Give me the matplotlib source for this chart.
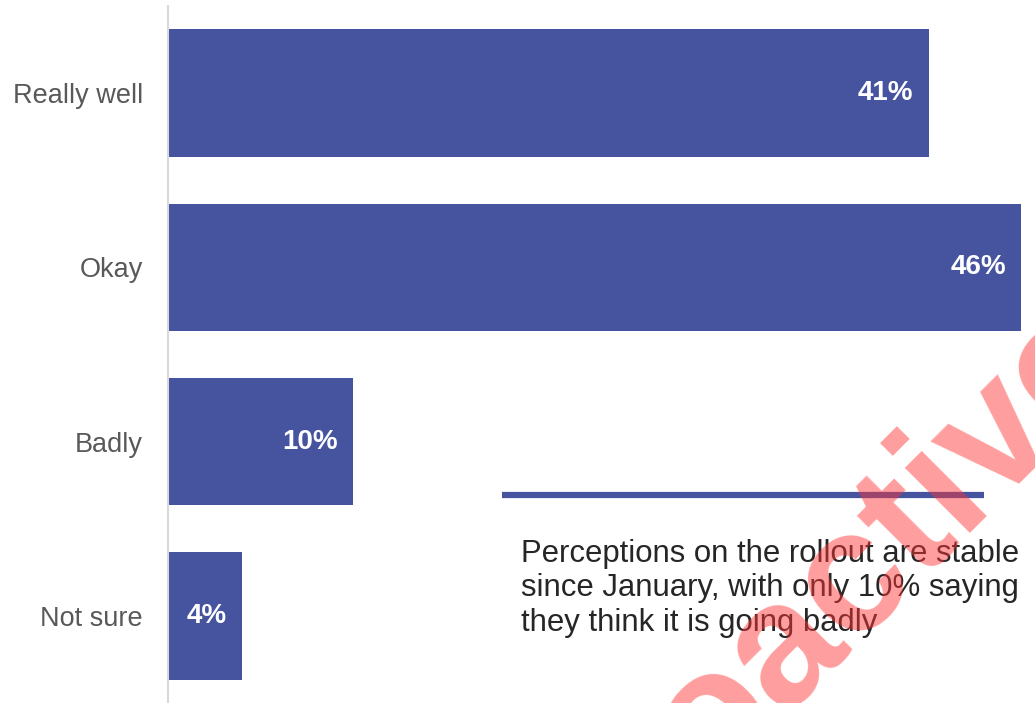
import matplotlib.pyplot as plt

plt.rcParams['font.family'] = ['Liberation Sans', 'DejaVu Sans']

categories = ['Really well', 'Okay', 'Badly', 'Not sure']
values = [41, 46, 10, 4]
value_labels = ['41%', '46%', '10%', '4%']

note = ('Perceptions on the rollout are stable\n'
        'since January, with only 10% saying\n'
        'they think it is going badly')

blue = '#4654a0'
W, H = 1035, 703

fig = plt.figure(figsize=(W / 100, H / 100), dpi=100)
ax = fig.add_axes([168 / W, 0, (W - 168) / W, 697 / H])

pos = list(range(len(categories)))
ax.barh(pos, values, height=0.733, color=blue)
ax.set_ylim(3.5, -0.5)
ax.set_xlim(0, 46.74)

for p, v, lab in zip(pos, values, value_labels):
    ax.annotate(lab, (v, p), xytext=(-11, 0), textcoords='offset points',
                ha='right', va='center', color='white', fontsize=20,
                fontweight='bold')

ax.set_yticks(pos)
ax.set_yticklabels(categories, fontsize=19.5, color='#595959')
ax.tick_params(axis='y', length=0, pad=18)
ax.set_xticks([])
for side in ['top', 'right', 'bottom']:
    ax.spines[side].set_visible(False)
ax.spines['left'].set_color('#d9d9d9')
ax.spines['left'].set_linewidth(1.5)

# callout: rule above the note
fig.add_artist(plt.Line2D([502 / W, 984 / W], [1 - 495 / H, 1 - 495 / H],
                          color=blue, linewidth=4.5, solid_capstyle='butt'))
# baseline of the last line
fig.text(521 / W, 1 - 631 / H, note, fontsize=22.4, color='#262626',
         ha='left', va='baseline', linespacing=1.2)

# watermark
fig.text(708 / W, 1 - 789 / H, 'oactive', fontsize=125, fontweight='bold',
         family='Liberation Sans', color='#ff3333', alpha=0.48,
         rotation=45, rotation_mode='anchor', ha='left', va='baseline',
         zorder=10)

fig.savefig('out.png', dpi=100)
